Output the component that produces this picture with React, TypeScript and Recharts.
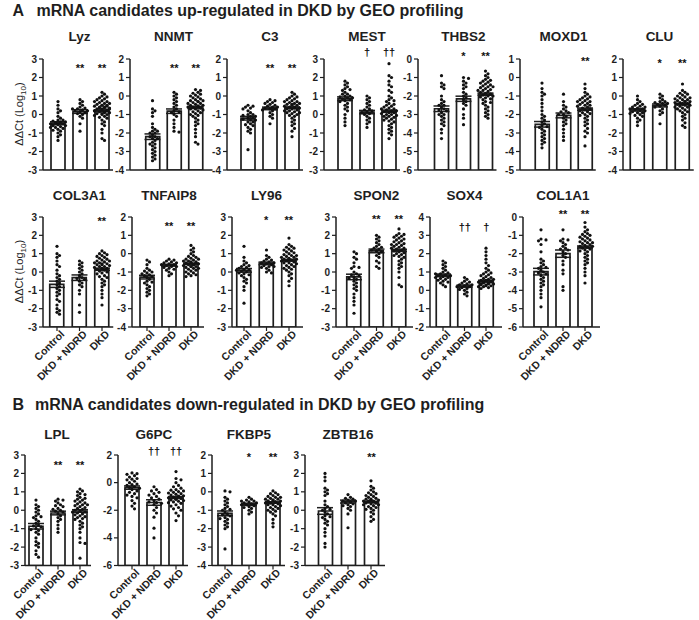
import React from "react";
import { ComposedChart, Bar, Scatter, XAxis, YAxis, ErrorBar, LabelList } from "recharts";

const FONT = "'Liberation Sans', Arial, Helvetica, sans-serif";
const INK = "#1e1e1e";

// ---------------- DATA ----------------
const GROUPS = ["Control", "DKD + NDRD", "DKD"];
const GENES = ["Lyz", "NNMT", "C3", "MEST", "THBS2", "MOXD1", "CLU", "COL3A1", "TNFAIP8", "LY96", "SPON2", "SOX4", "COL1A1", "LPL", "G6PC", "FKBP5", "ZBTB16"];
const Y_DOMAINS: [number, number][] = [[-3, 3], [-4, 2], [-4, 2], [-3, 3], [-6, 0], [-5, 1], [-4, 2], [-3, 3], [-4, 2], [-3, 3], [-3, 3], [-2, 4], [-6, 0], [-3, 3], [-6, 2], [-4, 2], [-3, 3]];
const Y_TICK_STEPS = [1, 1, 1, 1, 1, 1, 1, 1, 1, 1, 1, 1, 1, 1, 2, 1, 1];
const MEANS = [
  [-0.47, 0.16, 0.2], [-2.2, -0.82, -0.62], [-1.2, -0.67, -0.63], [0.85, 0.13, 0.18], [-2.69, -2.15, -1.9], [-2.53, -2.05, -1.71], [-0.75, -0.51, -0.44],
  [-0.67, -0.31, 0.15], [-1.28, -0.63, -0.55], [0.09, 0.47, 0.64], [-0.27, 1.15, 1.18], [0.82, 0.23, 0.5], [-2.98, -2.0, -1.64],
  [-0.87, -0.15, -0.04], [-0.36, -1.44, -1.08], [-1.17, -0.68, -0.58], [-0.04, 0.47, 0.45],
];
const SEMS = [
  [0.08, 0.1, 0.05], [0.15, 0.12, 0.06], [0.1, 0.07, 0.04], [0.1, 0.09, 0.06], [0.15, 0.14, 0.06], [0.15, 0.13, 0.06], [0.06, 0.08, 0.04],
  [0.17, 0.15, 0.06], [0.1, 0.05, 0.04], [0.1, 0.07, 0.05], [0.15, 0.1, 0.06], [0.07, 0.06, 0.05], [0.18, 0.2, 0.06],
  [0.15, 0.1, 0.07], [0.12, 0.2, 0.07], [0.13, 0.06, 0.04], [0.18, 0.08, 0.04],
];
const SIGNIFICANCE = [
  ["", "**", "**"], ["", "**", "**"], ["", "**", "**"], ["", "†", "††"], ["", "*", "**"], ["", "", "**"], ["", "*", "**"],
  ["", "", "**"], ["", "**", "**"], ["", "*", "**"], ["", "**", "**"], ["", "††", "†"], ["", "**", "**"],
  ["", "**", "**"], ["", "††", "††"], ["", "*", "**"], ["", "", "**"],
];

const POINTS_LYZ = [
  [0.7, 0.5, 0.3, 0.2, 0.1, -0.1, -0.2, -0.3, -0.3, -0.35, -0.4, -0.4, -0.45, -0.5, -0.5, -0.55, -0.6, -0.6, -0.65, -0.7, -0.7, -0.75, -0.8, -0.85, -0.9, -1.0, -1.1, -1.2, -1.4, -0.5],
  [0.8, 0.7, 0.6, 0.5, 0.4, 0.35, 0.3, 0.3, 0.25, 0.2, 0.2, 0.15, 0.1, 0.05, 0.0, -0.1, -0.2, -0.5, -0.9],
  [1.2, 1.1, 1.0, 0.95, 0.9, 0.85, 0.8, 0.75, 0.7, 0.7, 0.65, 0.6, 0.6, 0.55, 0.5, 0.5, 0.45, 0.45, 0.4, 0.4, 0.35, 0.35, 0.3, 0.3, 0.3, 0.25, 0.25, 0.2, 0.2, 0.2, 0.15, 0.15, 0.1, 0.1, 0.05, 0.05, 0.0, 0.0, -0.05, -0.1, -0.15, -0.2, -0.3, -0.4, -0.5, -0.6, -0.8, -1.0, -1.3, -1.4, 0.35, 0.5],
];
const POINTS_NNMT = [
  [-0.25, -0.7, -0.8, -0.9, -1.1, -1.5, -1.7, -1.8, -1.9, -1.9, -2.0, -2.0, -2.1, -2.2, -2.2, -2.3, -2.3, -2.4, -2.5, -2.6, -2.6, -2.7, -2.8, -2.9, -3.0, -3.1, -3.2, -3.3, -3.4, -3.5],
  [0.2, 0.1, 0.0, -0.1, -0.2, -0.3, -0.4, -0.5, -0.6, -0.7, -0.8, -0.85, -0.9, -1.0, -1.1, -1.3, -1.5, -1.7, -1.9, -1.95],
  [0.35, 0.3, 0.2, 0.15, 0.1, 0.05, 0.0, -0.05, -0.1, -0.15, -0.2, -0.25, -0.3, -0.3, -0.35, -0.4, -0.4, -0.45, -0.5, -0.5, -0.55, -0.6, -0.6, -0.65, -0.7, -0.7, -0.75, -0.8, -0.85, -0.9, -0.95, -1.0, -1.05, -1.1, -1.2, -1.3, -1.4, -1.5, -1.6, -1.8, -2.0, -2.2, -2.5, -2.6, -0.55, -0.25],
];
const POINTS_C3 = [
  [-0.5, -0.55, -0.6, -0.65, -0.7, -0.8, -0.9, -1.0, -1.0, -1.05, -1.1, -1.1, -1.2, -1.2, -1.25, -1.3, -1.3, -1.4, -1.4, -1.5, -1.55, -1.6, -1.7, -1.8, -1.9, -2.0, -2.9],
  [-0.2, -0.25, -0.3, -0.35, -0.4, -0.45, -0.5, -0.55, -0.6, -0.6, -0.65, -0.7, -0.7, -0.75, -0.8, -0.9, -1.0, -1.1, -1.2, -1.5],
  [0.2, 0.1, 0.0, -0.05, -0.1, -0.15, -0.2, -0.25, -0.3, -0.3, -0.35, -0.4, -0.4, -0.45, -0.5, -0.5, -0.55, -0.6, -0.6, -0.65, -0.7, -0.7, -0.75, -0.8, -0.8, -0.85, -0.9, -0.95, -1.0, -1.05, -1.1, -1.2, -1.3, -1.4, -1.5, -1.6, -1.75, -1.9, -2.2, -0.45, -0.65, -0.9],
];
const POINTS_MEST = [
  [1.8, 1.7, 1.6, 1.5, 1.4, 1.35, 1.3, 1.2, 1.1, 1.1, 1.0, 1.0, 0.95, 0.9, 0.9, 0.85, 0.8, 0.75, 0.7, 0.6, 0.5, 0.4, 0.3, 0.2, 0.0, -0.2, -0.4, -0.6],
  [1.0, 0.9, 0.8, 0.7, 0.6, 0.5, 0.4, 0.3, 0.25, 0.2, 0.15, 0.1, 0.05, 0.0, -0.1, -0.2, -0.3, -0.4, -0.5, -0.7],
  [2.75, 2.1, 2.0, 1.8, 1.6, 1.5, 1.3, 1.2, 1.0, 0.9, 0.8, 0.75, 0.7, 0.6, 0.55, 0.5, 0.45, 0.4, 0.35, 0.3, 0.25, 0.2, 0.2, 0.15, 0.1, 0.1, 0.05, 0.0, 0.0, -0.05, -0.1, -0.15, -0.2, -0.25, -0.3, -0.35, -0.4, -0.5, -0.6, -0.7, -0.8, -0.9, -1.0, -1.1, -1.3, 0.3, -0.1],
];
const POINTS_THBS2 = [
  [-0.9, -1.3, -1.4, -1.5, -1.6, -2.0, -2.2, -2.3, -2.4, -2.5, -2.5, -2.6, -2.7, -2.75, -2.8, -2.9, -3.0, -3.0, -3.1, -3.2, -3.3, -3.4, -3.5, -3.6, -3.8, -4.0, -4.3],
  [-1.0, -1.05, -1.2, -1.3, -1.4, -1.5, -1.6, -1.8, -1.9, -2.0, -2.1, -2.2, -2.3, -2.4, -2.5, -2.7, -3.0, -3.2, -3.55],
  [-0.65, -0.8, -0.9, -1.0, -1.1, -1.15, -1.2, -1.25, -1.3, -1.35, -1.4, -1.45, -1.5, -1.55, -1.6, -1.65, -1.7, -1.75, -1.8, -1.85, -1.9, -1.95, -2.0, -2.05, -2.1, -2.15, -2.2, -2.3, -2.35, -2.4, -2.5, -2.6, -2.7, -2.8, -2.9, -3.0, -3.1, -3.2, -1.5, -1.7, -2.0],
];
const POINTS_MOXD1 = [
  [-0.3, -0.6, -0.8, -0.9, -1.0, -1.2, -1.4, -1.6, -1.8, -2.0, -2.1, -2.2, -2.3, -2.4, -2.5, -2.6, -2.65, -2.7, -2.8, -2.9, -3.0, -3.1, -3.2, -3.3, -3.4, -3.5, -3.6, -3.8],
  [-0.9, -1.3, -1.5, -1.6, -1.7, -1.8, -1.85, -1.9, -2.0, -2.0, -2.1, -2.2, -2.3, -2.4, -2.5, -2.6, -2.8, -3.0, -3.2, -3.4],
  [-0.35, -0.6, -0.8, -0.9, -1.0, -1.05, -1.1, -1.15, -1.2, -1.25, -1.3, -1.35, -1.4, -1.45, -1.5, -1.55, -1.6, -1.65, -1.7, -1.75, -1.8, -1.85, -1.9, -1.95, -2.0, -2.05, -2.1, -2.2, -2.3, -2.4, -2.5, -2.6, -2.75, -2.9, -3.0, -3.2, -3.7, -1.5, -1.3],
];
const POINTS_CLU = [
  [0.0, -0.2, -0.3, -0.4, -0.45, -0.5, -0.55, -0.6, -0.6, -0.65, -0.7, -0.7, -0.75, -0.8, -0.8, -0.85, -0.9, -0.9, -0.95, -1.0, -1.05, -1.1, -1.2, -1.3, -1.4, -1.6],
  [0.1, 0.0, -0.1, -0.2, -0.3, -0.3, -0.35, -0.4, -0.4, -0.45, -0.5, -0.55, -0.6, -0.7, -0.8, -0.9, -1.0, -1.5],
  [0.65, 0.3, 0.2, 0.15, 0.1, 0.05, 0.0, -0.05, -0.1, -0.1, -0.15, -0.2, -0.2, -0.25, -0.3, -0.3, -0.35, -0.35, -0.4, -0.4, -0.45, -0.5, -0.5, -0.55, -0.6, -0.6, -0.65, -0.7, -0.75, -0.8, -0.85, -0.9, -1.0, -1.1, -1.2, -1.3, -1.45, -1.6, -1.7, -0.3, -0.45],
];
const POINTS_COL3A1 = [
  [1.4, 1.0, 0.9, 0.8, 0.6, 0.4, 0.3, 0.1, -0.1, -0.2, -0.3, -0.4, -0.5, -0.6, -0.7, -0.8, -0.9, -1.0, -1.1, -1.2, -1.3, -1.5, -1.6, -1.8, -2.0, -2.1, -2.2, -2.3],
  [0.6, 0.5, 0.4, 0.3, 0.2, 0.1, 0.0, -0.1, -0.2, -0.3, -0.35, -0.4, -0.5, -0.6, -0.7, -0.8, -1.0, -1.2, -1.8, -2.2],
  [1.15, 1.05, 1.0, 0.95, 0.9, 0.85, 0.8, 0.75, 0.7, 0.65, 0.6, 0.55, 0.5, 0.5, 0.45, 0.4, 0.4, 0.35, 0.3, 0.3, 0.25, 0.2, 0.2, 0.15, 0.1, 0.05, 0.0, -0.05, -0.1, -0.2, -0.25, -0.3, -0.4, -0.5, -0.6, -0.7, -0.8, -1.0, -1.2, -1.4, -1.8, 0.45, 0.6],
];
const POINTS_TNFAIP8 = [
  [-0.35, -0.45, -0.6, -0.8, -0.9, -0.95, -1.0, -1.05, -1.1, -1.15, -1.2, -1.25, -1.3, -1.4, -1.5, -1.55, -1.6, -1.7, -1.8, -1.9, -2.0, -2.1, -2.2, -2.3],
  [-0.3, -0.35, -0.4, -0.45, -0.5, -0.5, -0.55, -0.6, -0.6, -0.65, -0.65, -0.7, -0.7, -0.75, -0.8, -0.85, -0.9, -1.0, -1.1, -1.2],
  [0.45, 0.3, 0.2, 0.1, 0.0, -0.1, -0.15, -0.2, -0.25, -0.3, -0.3, -0.35, -0.4, -0.4, -0.45, -0.45, -0.5, -0.5, -0.55, -0.55, -0.6, -0.6, -0.65, -0.7, -0.7, -0.75, -0.8, -0.8, -0.85, -0.9, -0.95, -1.0, -1.05, -1.1, -1.15, -1.2, -1.25, -0.5, -0.6, -0.7],
];
const POINTS_LY96 = [
  [1.4, 0.8, 0.6, 0.5, 0.4, 0.35, 0.3, 0.25, 0.2, 0.15, 0.1, 0.1, 0.05, 0.0, -0.05, -0.1, -0.15, -0.2, -0.3, -0.4, -0.5, -0.6, -0.8, -1.0, -1.7],
  [1.2, 0.9, 0.8, 0.7, 0.65, 0.6, 0.55, 0.5, 0.5, 0.45, 0.4, 0.35, 0.3, 0.3, 0.25, 0.2, 0.1, 0.0, -0.05],
  [1.85, 1.5, 1.4, 1.35, 1.3, 1.25, 1.2, 1.15, 1.1, 1.05, 1.0, 0.95, 0.9, 0.85, 0.8, 0.8, 0.75, 0.7, 0.7, 0.65, 0.6, 0.6, 0.55, 0.5, 0.5, 0.45, 0.4, 0.35, 0.3, 0.25, 0.2, 0.15, 0.1, 0.0, -0.1, -0.2, -0.35, -0.5, -0.75, 0.7, 0.9],
];
const POINTS_SPON2 = [
  [1.1, 1.0, 0.8, 0.7, 0.5, 0.3, 0.25, 0.2, 0.0, -0.1, -0.15, -0.2, -0.3, -0.35, -0.4, -0.5, -0.6, -0.7, -0.8, -0.9, -1.0, -1.2, -1.4, -1.6, -1.8, -2.25],
  [2.0, 1.9, 1.8, 1.7, 1.6, 1.5, 1.4, 1.35, 1.3, 1.25, 1.2, 1.15, 1.1, 1.0, 0.9, 0.8, 0.6, 0.5, 0.3, 0.2],
  [2.35, 2.1, 2.05, 2.0, 1.95, 1.9, 1.85, 1.8, 1.75, 1.7, 1.65, 1.6, 1.55, 1.5, 1.45, 1.4, 1.35, 1.3, 1.25, 1.2, 1.15, 1.1, 1.05, 1.0, 0.95, 0.9, 0.85, 0.8, 0.7, 0.6, 0.5, 0.4, 0.3, 0.2, 0.0, -0.3, -0.7, -0.8, 1.5, 1.3],
];
const POINTS_SOX4 = [
  [1.6, 1.5, 1.4, 1.3, 1.2, 1.1, 1.0, 0.95, 0.9, 0.9, 0.85, 0.8, 0.8, 0.75, 0.7, 0.7, 0.65, 0.6, 0.55, 0.5, 0.45, 0.4, 0.3, 0.2],
  [0.7, 0.6, 0.5, 0.45, 0.4, 0.35, 0.3, 0.3, 0.25, 0.2, 0.2, 0.15, 0.1, 0.05, 0.0, -0.1, -0.2, -0.3],
  [2.3, 2.1, 1.9, 1.7, 1.5, 1.35, 1.2, 1.1, 1.0, 0.95, 0.9, 0.85, 0.8, 0.75, 0.7, 0.65, 0.6, 0.6, 0.55, 0.5, 0.5, 0.45, 0.45, 0.4, 0.4, 0.35, 0.35, 0.3, 0.3, 0.25, 0.25, 0.2, 0.2, 0.15, 0.1, 0.45, 0.55, 0.35],
];
const POINTS_COL1A1 = [
  [-0.7, -1.2, -1.25, -1.3, -1.5, -1.9, -2.3, -2.4, -2.5, -2.6, -2.7, -2.75, -2.8, -2.9, -3.0, -3.05, -3.1, -3.2, -3.3, -3.4, -3.5, -3.6, -3.7, -3.8, -4.0, -4.2, -4.4, -4.9],
  [-0.7, -1.2, -1.25, -1.3, -1.4, -1.5, -1.6, -1.7, -1.75, -1.8, -1.9, -2.0, -2.1, -2.2, -2.4, -2.6, -2.9, -3.1, -3.8, -4.0],
  [-0.3, -0.55, -0.7, -0.8, -0.9, -0.95, -1.0, -1.05, -1.1, -1.15, -1.2, -1.25, -1.3, -1.35, -1.4, -1.45, -1.5, -1.55, -1.6, -1.65, -1.7, -1.75, -1.8, -1.85, -1.9, -2.0, -2.1, -2.2, -2.3, -2.4, -2.5, -2.6, -2.8, -3.0, -3.2, -3.6, -1.4, -1.6],
];
const POINTS_LPL = [
  [0.55, 0.3, 0.2, 0.1, 0.0, -0.1, -0.2, -0.3, -0.35, -0.4, -0.5, -0.6, -0.7, -0.8, -0.85, -0.9, -1.0, -1.05, -1.1, -1.2, -1.3, -1.5, -1.7, -1.8, -1.9, -2.0, -2.2, -2.4, -2.55],
  [0.6, 0.55, 0.5, 0.4, 0.3, 0.25, 0.2, 0.1, 0.05, 0.0, -0.05, -0.1, -0.2, -0.3, -0.4, -0.5, -0.6, -0.8, -1.0, -1.2],
  [1.15, 1.05, 1.0, 0.9, 0.85, 0.8, 0.7, 0.65, 0.6, 0.55, 0.5, 0.45, 0.4, 0.35, 0.3, 0.25, 0.2, 0.15, 0.1, 0.05, 0.0, -0.05, -0.1, -0.15, -0.2, -0.25, -0.3, -0.35, -0.4, -0.45, -0.5, -0.6, -0.7, -0.8, -0.9, -1.0, -1.2, -1.5, -1.75, -1.8, -2.6, 0.3, -0.1],
];
const POINTS_G6PC = [
  [0.7, 0.65, 0.6, 0.5, 0.4, 0.3, 0.25, 0.2, 0.1, 0.0, -0.1, -0.15, -0.2, -0.3, -0.35, -0.4, -0.5, -0.6, -0.7, -0.8, -0.9, -1.0, -1.1, -1.3, -1.5, -1.7, -1.9],
  [-0.3, -0.5, -0.6, -0.7, -0.8, -0.9, -1.0, -1.1, -1.2, -1.3, -1.4, -1.45, -1.5, -1.6, -1.8, -2.0, -2.2, -2.5, -3.3, -4.0],
  [0.8, 0.3, 0.2, 0.0, -0.2, -0.3, -0.4, -0.5, -0.55, -0.6, -0.65, -0.7, -0.75, -0.8, -0.85, -0.9, -0.95, -1.0, -1.05, -1.1, -1.15, -1.2, -1.25, -1.3, -1.35, -1.4, -1.45, -1.5, -1.6, -1.7, -1.8, -1.9, -2.0, -2.2, -2.4, -2.75, -1.0, -1.2],
];
const POINTS_FKBP5 = [
  [0.05, 0.0, -0.3, -0.4, -0.5, -0.6, -0.7, -0.8, -0.9, -0.95, -1.0, -1.1, -1.2, -1.25, -1.3, -1.4, -1.45, -1.5, -1.6, -1.7, -1.8, -1.9, -2.0, -3.1],
  [-0.3, -0.4, -0.45, -0.5, -0.5, -0.55, -0.6, -0.6, -0.65, -0.7, -0.7, -0.75, -0.8, -0.85, -0.9, -1.0, -1.1, -1.2],
  [0.05, -0.05, -0.1, -0.15, -0.2, -0.25, -0.3, -0.3, -0.35, -0.4, -0.4, -0.45, -0.45, -0.5, -0.5, -0.55, -0.55, -0.6, -0.6, -0.65, -0.7, -0.7, -0.75, -0.8, -0.85, -0.9, -0.95, -1.0, -1.05, -1.1, -1.2, -1.3, -1.5, -1.7, -1.9, -0.5, -0.6],
];
const POINTS_ZBTB16 = [
  [2.0, 1.8, 1.6, 1.2, 1.1, 1.0, 0.9, 0.8, 0.5, 0.3, 0.2, 0.1, 0.05, 0.0, -0.1, -0.2, -0.3, -0.35, -0.4, -0.5, -0.6, -0.7, -0.8, -1.0, -1.2, -1.4, -1.8, -2.0],
  [0.85, 0.7, 0.65, 0.6, 0.55, 0.5, 0.5, 0.45, 0.45, 0.4, 0.35, 0.3, 0.25, 0.2, 0.1, 0.0, -0.2, -0.95],
  [1.6, 1.3, 1.2, 1.1, 1.0, 0.95, 0.9, 0.85, 0.8, 0.75, 0.7, 0.65, 0.6, 0.6, 0.55, 0.55, 0.5, 0.5, 0.45, 0.45, 0.4, 0.4, 0.35, 0.3, 0.3, 0.25, 0.2, 0.15, 0.1, 0.05, 0.0, -0.1, -0.2, -0.35, -0.5, -0.6, 0.5, 0.4],
];
const POINTS = [POINTS_LYZ, POINTS_NNMT, POINTS_C3, POINTS_MEST, POINTS_THBS2, POINTS_MOXD1, POINTS_CLU, POINTS_COL3A1, POINTS_TNFAIP8, POINTS_LY96, POINTS_SPON2, POINTS_SOX4, POINTS_COL1A1, POINTS_LPL, POINTS_G6PC, POINTS_FKBP5, POINTS_ZBTB16];

// ---------------- LAYOUT ----------------
const ROWS = [
  { top: 58.5, bottom: 169.5, titleY: 41, labels: false },
  { top: 216.5, bottom: 326.5, titleY: 199.5, labels: true },
  { top: 455, bottom: 565.5, titleY: 439, labels: true },
];
const PANEL_LAYOUT = [
  { row: 0, axisX: 42.5, c0: 57.5, gap: 22, end: 110, sigY: 65 },
  { row: 0, axisX: 129.5, c0: 152, gap: 21.5, end: 212, sigY: 65 },
  { row: 0, axisX: 227, c0: 248, gap: 22, end: 301, sigY: 65 },
  { row: 0, axisX: 324, c0: 345, gap: 22, end: 398, sigY: 52 },
  { row: 0, axisX: 418, c0: 441.5, gap: 22, end: 494, sigY: 53 },
  { row: 0, axisX: 520, c0: 542, gap: 21.5, end: 593, sigY: 58.5 },
  { row: 0, axisX: 622.5, c0: 637, gap: 22.5, end: 691, sigY: 60 },
  { row: 1, axisX: 43, c0: 57, gap: 22.5, end: 110, sigY: 218.5 },
  { row: 1, axisX: 132, c0: 147, gap: 22, end: 204, sigY: 223 },
  { row: 1, axisX: 232, c0: 244, gap: 22.5, end: 303, sigY: 217 },
  { row: 1, axisX: 336, c0: 354, gap: 22.5, end: 413, sigY: 216.5 },
  { row: 1, axisX: 430, c0: 443, gap: 21.5, end: 502, sigY: 227 },
  { row: 1, axisX: 523, c0: 541, gap: 22, end: 600, sigY: 211 },
  { row: 2, axisX: 24.5, c0: 35, gap: 22, end: 87, sigY: 463 },
  { row: 2, axisX: 118, c0: 132, gap: 22, end: 188, sigY: 452 },
  { row: 2, axisX: 212, c0: 225, gap: 24, end: 285, sigY: 455 },
  { row: 2, axisX: 305, c0: 325, gap: 23, end: 385, sigY: 455 },
];

const YW = 30;
const MT = 26;
const MR = 14;

function beeswarm(groups: number[][], pxPerUnit: number, gap: number) {
  const out: { x: number; y: number }[] = [];
  const D = 2.9;
  const S = 2.5;
  const offsets = [0];
  for (let k = 1; k <= 3; k++) offsets.push(k * S, -k * S);
  groups.forEach((vals, gi) => {
    const placed: { dx: number; py: number }[] = [];
    const sorted = [...vals].sort((a, b) => b - a);
    sorted.forEach((v) => {
      const py = -v * pxPerUnit;
      let best = 0;
      let bestHits = Infinity;
      for (const dx of offsets) {
        let hits = 0;
        for (const q of placed) {
          const ddx = q.dx - dx;
          const ddy = q.py - py;
          if (ddx * ddx + ddy * ddy < D * D) hits++;
        }
        if (hits < bestHits) {
          bestHits = hits;
          best = dx;
          if (hits === 0) break;
        }
      }
      placed.push({ dx: best, py });
      out.push({ x: gi + best / gap, y: v });
    });
  });
  return out;
}

const DotShape = (p: any) => <circle cx={p.cx} cy={p.cy} r={1.6} fill="#111" />;
const EmptyShape = () => <g />;

const RotatedTick = (p: any) => {
  const ex = p.x + 8;
  const ey = p.y + 4;
  return (
    <text x={ex} y={ey} transform={`rotate(-45 ${ex} ${ey})`} textAnchor="end" fontSize={10.5} fontWeight={700} fill={INK} fontFamily={FONT}>
      {p.payload.value}
    </text>
  );
};

function Panel({ idx }: { idx: number }) {
  const L = PANEL_LAYOUT[idx];
  const row = ROWS[L.row];
  const [yMin, yMax] = Y_DOMAINS[idx];
  const step = Y_TICK_STEPS[idx];
  const ticks: number[] = [];
  for (let v = yMin; v <= yMax + 1e-9; v += step) ticks.push(v);
  const XH = row.labels ? 64 : 10;
  const plotH = row.bottom - row.top;
  const padL = Math.max(0, L.c0 - L.gap / 2 - L.axisX);
  const padR = Math.max(0, L.end - (L.c0 + 2.5 * L.gap));
  const plotW = padL + 3 * L.gap + padR;
  const width = YW + plotW + MR;
  const height = MT + plotH + XH;
  const pxPerUnit = plotH / (yMax - yMin);
  const chartTop = row.top - MT;

  const bars = GROUPS.map((g, i) => ({ name: g, range: [yMin, MEANS[idx][i]], sig: SIGNIFICANCE[idx][i] }));
  const dots = beeswarm(POINTS[idx], pxPerUnit, L.gap);
  const summary = GROUPS.map((g, i) => ({ x: i, y: MEANS[idx][i], sem: SEMS[idx][i] }));

  const sigContent = (p: any) => {
    const val = p.value;
    if (!val) return null;
    const x = p.x ?? p.viewBox?.x;
    const w = p.width ?? p.viewBox?.width;
    const dagger = String(val).includes("†");
    const baseline = L.sigY - chartTop + (dagger ? 3.2 : 6.3);
    return (
      <text x={x + w / 2} y={baseline} textAnchor="middle" fontSize={11} fontWeight={700} fill="#111" stroke="none" fontFamily={FONT}>
        {val}
      </text>
    );
  };

  return (
    <div style={{ position: "absolute", left: L.axisX - YW, top: chartTop, width, height }}>
      <ComposedChart width={width} height={height} data={bars} margin={{ top: MT, right: MR, bottom: 0, left: 0 }}>
        <XAxis
          xAxisId="cat"
          dataKey="name"
          type="category"
          padding={{ left: padL, right: padR }}
          height={XH}
          axisLine={{ stroke: INK, strokeWidth: 1.5 }}
          tickLine={{ stroke: INK, strokeWidth: 1.2 }}
          tickSize={4}
          tickMargin={0}
          interval={0}
          tick={row.labels ? <RotatedTick /> : false}
        />
        <XAxis xAxisId="num" dataKey="x" type="number" domain={[-0.5, 2.5]} padding={{ left: padL, right: padR }} hide allowDataOverflow />
        <YAxis
          type="number"
          domain={[yMin, yMax]}
          ticks={ticks}
          width={YW}
          interval={0}
          allowDataOverflow
          axisLine={{ stroke: INK, strokeWidth: 1.5 }}
          tickLine={{ stroke: INK, strokeWidth: 1.2 }}
          tickSize={4}
          tickMargin={2}
          tick={{ fontSize: 10, fontWeight: 700, fill: INK, fontFamily: FONT }}
        />
        <Bar xAxisId="cat" dataKey="range" barSize={14} fill="#ffffff" stroke={INK} strokeWidth={1.7} isAnimationActive={false}>
          <LabelList dataKey="sig" content={sigContent} />
        </Bar>
        <Scatter xAxisId="num" data={dots} dataKey="y" shape={DotShape} isAnimationActive={false} />
        <Scatter xAxisId="num" data={summary} dataKey="y" shape={EmptyShape} isAnimationActive={false}>
          <ErrorBar dataKey="sem" direction="y" width={8} stroke={INK} strokeWidth={1.5} />
        </Scatter>
      </ComposedChart>
    </div>
  );
}

const Y_LABEL_ROWS = [0, 1];

export default function App() {
  return (
    <div style={{ position: "absolute", left: 0, top: 0, width: 699, height: 620, background: "#fff", fontFamily: FONT }}>
      {GENES.map((g, i) => (
        <Panel key={g} idx={i} />
      ))}
      <svg width={699} height={620} style={{ position: "absolute", left: 0, top: 0, pointerEvents: "none" }}>
        <text x={12.5} y={15.5} fontSize={16} fontWeight={700} fill={INK} fontFamily={FONT}>A</text>
        <text x={36.5} y={15.5} fontSize={16} fontWeight={700} fill={INK} fontFamily={FONT}>mRNA candidates up-regulated in DKD by GEO profiling</text>
        <text x={12.5} y={410} fontSize={16} fontWeight={700} fill={INK} fontFamily={FONT}>B</text>
        <text x={35} y={410} fontSize={16} fontWeight={700} fill={INK} fontFamily={FONT}>mRNA candidates down-regulated in DKD by GEO profiling</text>
        {GENES.map((g, i) => {
          const L = PANEL_LAYOUT[i];
          const row = ROWS[L.row];
          return (
            <text key={g} x={L.c0 + L.gap} y={row.titleY} textAnchor="middle" fontSize={13.5} fontWeight={700} fill={INK} fontFamily={FONT}>
              {g}
            </text>
          );
        })}
        {Y_LABEL_ROWS.map((r) => {
          const row = ROWS[r];
          const cy = (row.top + row.bottom) / 2;
          return (
            <text key={r} transform={`translate(23, ${cy}) rotate(-90)`} textAnchor="middle" fontSize={11} fill={INK} fontFamily={FONT}>
              ΔΔCt (Log<tspan dy={3} fontSize={8}>10</tspan><tspan dy={-3}>)</tspan>
            </text>
          );
        })}
      </svg>
    </div>
  );
}
